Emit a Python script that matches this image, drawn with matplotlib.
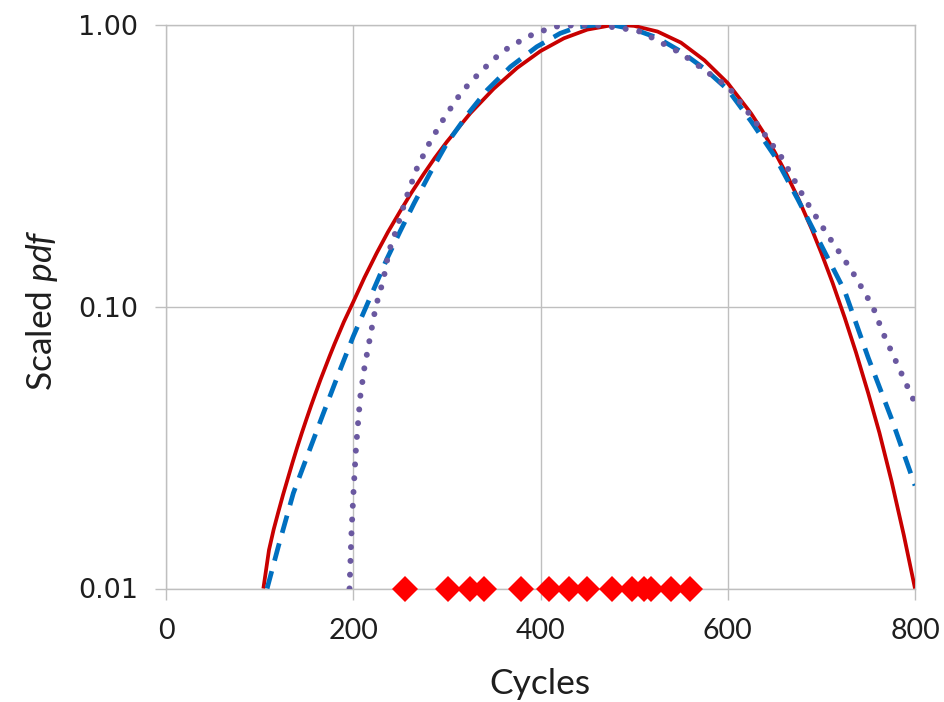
import matplotlib
matplotlib.use("Agg")
import matplotlib.pyplot as plt
from matplotlib.ticker import FixedLocator, FuncFormatter, NullLocator

# Scaled probability density curves
red_x = [104, 110, 115, 120, 125, 130, 135, 140, 145, 150, 155, 160, 165, 175,
         180, 190, 200, 212, 225, 237, 250, 262, 275, 287, 300, 325, 350, 375,
         400, 425, 450, 475, 485, 500, 525, 550, 575, 600, 625, 637, 650, 662,
         675, 690, 700, 712, 725, 737, 750, 762, 775, 788, 800]
red_y = [0.0100, 0.0137, 0.0162, 0.0187, 0.0215, 0.0245, 0.0279, 0.0316, 0.0356,
         0.0399, 0.0446, 0.0496, 0.0551, 0.0671, 0.0738, 0.0884, 0.104, 0.127,
         0.155, 0.184, 0.218, 0.2535, 0.295, 0.337, 0.385, 0.486, 0.594, 0.704,
         0.808, 0.897, 0.963, 0.997, 1.000, 0.993, 0.948, 0.866, 0.750, 0.622,
         0.485, 0.421, 0.355, 0.299, 0.2435, 0.1875, 0.155, 0.1215, 0.0913,
         0.0688, 0.0494, 0.0357, 0.0240, 0.0155, 0.0100]

blue_x = [108, 120, 136, 152, 168, 184, 200, 216, 236, 250, 265, 282, 300, 323,
          343, 368, 396, 421, 440, 460, 480, 500, 525, 550, 575, 600, 625, 650,
          675, 700, 725, 750, 775, 800]
blue_y = [0.0100, 0.0141, 0.0218, 0.0302, 0.0418, 0.0575, 0.0785, 0.104, 0.148,
          0.185, 0.233, 0.298, 0.380, 0.486, 0.588, 0.711, 0.837, 0.934, 0.985,
          1.000, 0.995, 0.965, 0.900, 0.805, 0.700, 0.590, 0.455, 0.343, 0.240,
          0.165, 0.1135, 0.066, 0.040, 0.0232]

purple_x = [196, 198, 200, 203, 207.5, 212, 218, 224, 232, 238, 247, 257, 268,
            282, 298, 316, 336, 359, 386, 414, 440, 465, 490, 507, 525, 550,
            575, 601, 628, 657, 683, 708, 732, 755, 766, 779, 792, 800]
purple_y = [0.0100, 0.0155, 0.0212, 0.0318, 0.048, 0.061, 0.078, 0.100, 0.124,
            0.157, 0.192, 0.246, 0.310, 0.385, 0.473, 0.580, 0.683, 0.804,
            0.909, 0.986, 1.000, 0.995, 0.970, 0.947, 0.880, 0.794, 0.692,
            0.601, 0.460, 0.341, 0.239, 0.177, 0.135, 0.100, 0.0805, 0.0647,
            0.052, 0.0455]

# Observed failure cycles, shown along the bottom of the plot
obs_cycles = [255, 301, 325, 340, 379, 409, 430, 450, 476, 498, 511, 518, 539, 560]
obs_level = [0.01] * len(obs_cycles)

x_ticks = [0, 200, 400, 600, 800]
y_ticks = [0.01, 0.1, 1.0]

plt.rcParams['mathtext.fontset'] = 'custom'
plt.rcParams['mathtext.rm'] = 'Lato'
plt.rcParams['mathtext.it'] = 'Lato:italic'

W, H = 944, 702
fig = plt.figure(figsize=(W / 100, H / 100), dpi=100)
left, right, top, bottom = 166, 915, 25, 588.5
ax = fig.add_axes([left / W, 1 - bottom / H, (right - left) / W, (bottom - top) / H])

grid_col = '#BFBFBF'
text_col = '#1E1E1E'
ax.set_yscale('log')
ax.set_xlim(0, 800)
ax.set_ylim(0.01, 1.0)
ax.xaxis.set_major_locator(FixedLocator(x_ticks))
ax.yaxis.set_major_locator(FixedLocator(y_ticks))
ax.yaxis.set_minor_locator(NullLocator())
ax.yaxis.set_major_formatter(FuncFormatter(lambda v, p: f"{v:.2f}"))
ax.grid(True, color=grid_col, linewidth=1.0)
ax.set_axisbelow(True)
for s in ax.spines.values():
    s.set_color(grid_col)
    s.set_linewidth(1.0)
ax.tick_params(axis='both', which='major', direction='out', length=8,
               width=1.0, color=grid_col)
ax.tick_params(axis='y', pad=12, labelsize=19.5, labelcolor=text_col)
ax.tick_params(axis='x', pad=13, labelsize=20.5, labelcolor=text_col)
for lab in ax.get_yticklabels():
    lab.set_fontfamily('DejaVu Sans')
for lab in ax.get_xticklabels():
    lab.set_fontfamily('Lato')

ax.plot(red_x, red_y, color='#C80000', linewidth=2.7, solid_capstyle='butt',
        solid_joinstyle='round', zorder=3)
ax.plot(blue_x, blue_y, color='#0070C0', linewidth=3.4,
        linestyle=(0, (3.8, 2.3)), dash_capstyle='butt', zorder=4)
ax.plot(purple_x, purple_y, color='#6A58A0', linewidth=4.3,
        linestyle=(0, (0.01, 2.3)), dash_capstyle='round', zorder=5)
ax.plot(obs_cycles, obs_level, linestyle='none', marker='D', markersize=13.5,
        color='#FF0000', markeredgewidth=0, clip_on=False, zorder=6)

fig.text(540 / W, 1 - 684 / H, 'Cycles', ha='center', va='center',
         fontsize=25.5, family='Lato', color=text_col)
fig.text(42 / W, 1 - 310 / H, r'Scaled $\mathit{pdf}$', ha='center', va='center',
         rotation=90, fontsize=25.5, family='Lato', color=text_col)

fig.savefig('out.png', dpi=100)
